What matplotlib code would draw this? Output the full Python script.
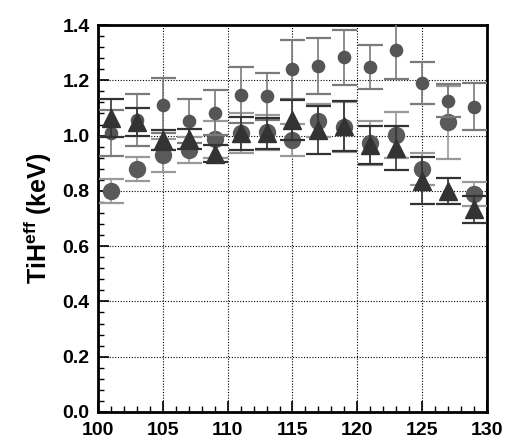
import matplotlib
matplotlib.use("Agg")
import matplotlib.pyplot as plt
from matplotlib.ticker import MultipleLocator

plt.rcParams['font.family'] = ['Liberation Sans', 'DejaVu Sans']
plt.rcParams['font.weight'] = 'bold'
plt.rcParams['mathtext.fontset'] = 'custom'
plt.rcParams['mathtext.bf'] = 'Liberation Sans:bold'
plt.rcParams['mathtext.rm'] = 'Liberation Sans:bold'

x = [101, 103, 105, 107, 109, 111, 113, 115, 117, 119, 121, 123, 125, 127, 129]

small_circle = [1.01, 1.056, 1.109, 1.054, 1.083, 1.147, 1.143, 1.24, 1.252, 1.283,
                1.249, 1.31, 1.191, 1.126, 1.105]
small_circle_err = [0.083, 0.094, 0.10, 0.08, 0.082, 0.10, 0.085, 0.106, 0.10, 0.10,
                    0.08, 0.106, 0.076, 0.06, 0.085]

large_circle = [0.80, 0.878, 0.928, 0.948, 0.986, 1.008, 1.012, 0.984, 1.054, 1.03,
                0.972, 1.002, 0.879, 1.048, 0.789]
large_circle_err = [0.044, 0.044, 0.06, 0.046, 0.068, 0.072, 0.064, 0.058, 0.06, 0.09,
                    0.08, 0.082, 0.057, 0.132, 0.043]

triangle = [1.064, 1.05, 0.984, 0.988, 0.935, 1.008, 1.008, 1.056, 1.02, 1.035,
            0.966, 0.954, 0.836, 0.80, 0.733]
triangle_err = [0.068, 0.05, 0.037, 0.037, 0.03, 0.06, 0.055, 0.073, 0.088, 0.09,
                0.07, 0.08, 0.085, 0.048, 0.05]

xticks = [100, 105, 110, 115, 120, 125, 130]
yticks = [0.0, 0.2, 0.4, 0.6, 0.8, 1.0, 1.2, 1.4]

fig = plt.figure(figsize=(5.11, 4.41), dpi=100)
ax = fig.add_axes([0.1918, 0.0658, 0.953 - 0.1918, 0.9433 - 0.0658])

ax.errorbar(x, large_circle, yerr=large_circle_err, fmt='o', ms=11.5,
            color='#5a5a5a', mec='#5a5a5a', ecolor='#999999', elinewidth=1.2,
            capsize=9, capthick=1.6, zorder=3)
ax.errorbar(x, small_circle, yerr=small_circle_err, fmt='o', ms=8.8,
            color='#555555', mec='#555555', ecolor='#7a7a7a', elinewidth=1.2,
            capsize=9, capthick=1.6, zorder=4)
ax.errorbar(x, triangle, yerr=triangle_err, fmt='^', ms=12.5,
            color='#333333', mec='#333333', ecolor='#333333', elinewidth=1.2,
            capsize=9, capthick=1.6, zorder=5)

ax.set_xlim(100, 130)
ax.set_ylim(0, 1.4)
ax.set_xticks(xticks)
ax.set_yticks(yticks)
ax.set_yticklabels([f"{v:.1f}" for v in yticks])
ax.xaxis.set_minor_locator(MultipleLocator(1))
ax.yaxis.set_minor_locator(MultipleLocator(0.04))

ax.tick_params(axis='both', which='major', direction='in', length=8, width=1.2,
               labelsize=14)
ax.tick_params(axis='both', which='minor', direction='in', length=4, width=1)
ax.tick_params(axis='x', which='both', pad=7)
ax.tick_params(axis='y', which='both', pad=6)
for lab in ax.get_xticklabels() + ax.get_yticklabels():
    lab.set_fontweight('bold')

ax.grid(True, which='major', color='black', linestyle=(0, (1, 1.5)), linewidth=0.8)
ax.set_axisbelow(True)

for s in ax.spines.values():
    s.set_linewidth(2)
    s.set_color('black')

ax.set_ylabel(r'Ti$\mathbf{H}^\mathbf{eff}$ (keV)', fontsize=18, fontweight='bold',
              labelpad=6)

fig.savefig('out.png', dpi=100)
